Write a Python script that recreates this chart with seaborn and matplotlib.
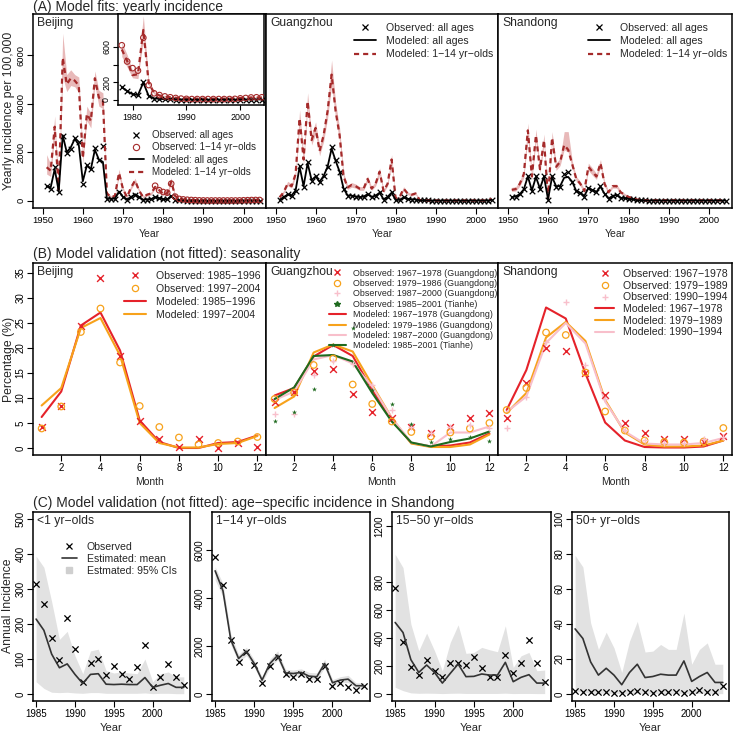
import numpy as np
import matplotlib
matplotlib.use("Agg")
import matplotlib.pyplot as plt
import seaborn as sns
from matplotlib.lines import Line2D

# ---------------- panel A: yearly incidence per 100,000 (1951-2004) ----------------
years_a = np.arange(1951, 2005)

bj_obs_all = [620, 480, 1380, 345, 2650, 1950, 2130, 2590, 2410, 690,
              1490, 1310, 2180, 1680, 2270, 70, 70, 70, 345, 140,
              40, 140, 250, 140, 30, 50, 60, 150, 105, 65,
              55, 200, 40, 15, 10, 8, 6, 5, 4, 4,
              3, 3, 3, 3, 3, 3, 3, 3, 3, 4,
              4, 5, 5, 5]
bj_mod_all = [600, 550, 1300, 400, 2700, 2000, 2200, 2550, 2300, 800,
              1450, 1300, 2100, 1700, 1600, 90, 80, 90, 380, 160,
              60, 150, 270, 150, 40, 60, 70, 145, 100, 65,
              55, 195, 45, 18, 12, 9, 7, 6, 5, 5,
              4, 4, 4, 4, 4, 4, 4, 4, 4, 5,
              5, 6, 6, 6]
bj_mod_kid = [1380, 1240, 3050, 450, 5900, 4800, 5050, 4950, 4750, 1750,
              3580, 3300, 5050, 4250, 4150, 300, 150, 200, 1150, 480,
              150, 550, 830, 420, 150, 250, 300, 570, 440, 280,
              290, 790, 190, 80, 50, 40, 30, 25, 20, 18,
              15, 15, 15, 15, 15, 15, 15, 15, 18, 22,
              25, 28, 28, 28]
bj_kid_lo = [1100, 1000, 2700, 350, 5100, 4500, 4750, 4700, 4450, 1550,
             3300, 3000, 4750, 3900, 3800, 230, 110, 150, 1000, 400,
             110, 470, 730, 360, 110, 200, 240, 490, 370, 250,
             240, 680, 160, 65, 40, 32, 24, 20, 16, 14,
             12, 12, 12, 12, 12, 12, 12, 12, 14, 17,
             20, 22, 22, 22]
bj_kid_hi = [1900, 1500, 3500, 600, 6900, 5200, 5400, 5200, 5100, 2000,
             3900, 3600, 5350, 4550, 4450, 380, 200, 260, 1300, 560,
             200, 640, 930, 490, 200, 300, 360, 650, 510, 330,
             340, 950, 230, 95, 62, 50, 38, 32, 26, 23,
             19, 19, 19, 19, 19, 19, 19, 19, 23, 28,
             31, 35, 35, 35]
years_kid = np.arange(1978, 2005)
bj_obs_kid = [617, 434, 359, 331, 702, 168, 75, 55, 40, 30,
              22, 15, 12, 10, 10, 10, 10, 10, 10, 10,
              10, 12, 18, 22, 28, 30, 30]

gz_obs_all = [30, 140, 280, 200, 400, 1450, 550, 1600, 830, 1040,
              760, 1040, 1380, 2210, 1660, 1180, 480, 200, 200, 170,
              140, 170, 280, 140, 200, 350, 30, 140, 350, 10,
              30, 140, 70, 50, 50, 15, 10, 10, 8, 8,
              6, 6, 5, 5, 5, 5, 5, 5, 5, 5,
              5, 5, 5, 50]
gz_mod_all = [40, 150, 250, 220, 420, 1400, 600, 1550, 850, 1000,
              780, 1020, 1400, 2150, 1650, 1200, 500, 220, 210, 180,
              150, 170, 270, 160, 210, 330, 60, 160, 330, 30,
              40, 130, 80, 60, 55, 20, 12, 10, 9, 8,
              7, 7, 6, 6, 6, 6, 6, 6, 6, 6,
              6, 6, 6, 40]
gz_mod_kid = [140, 350, 700, 600, 1100, 3400, 1700, 4100, 2500, 3000,
              2050, 2700, 3700, 5200, 3700, 2700, 1000, 550, 650, 600,
              500, 500, 900, 500, 700, 1200, 400, 700, 1700, 100,
              150, 500, 300, 250, 300, 30, 15, 12, 10, 10,
              8, 8, 8, 8, 8, 8, 8, 8, 8, 8,
              8, 8, 8, 80]
gz_kid_lo = [110, 300, 620, 520, 980, 3100, 1500, 3800, 2300, 2750,
             1850, 2450, 3400, 4750, 3400, 2450, 880, 470, 560, 520,
             430, 430, 790, 430, 610, 1060, 330, 610, 1500, 70,
             110, 420, 250, 200, 250, 20, 10, 8, 7, 7,
             5, 5, 5, 5, 5, 5, 5, 5, 5, 5,
             5, 5, 5, 60]
gz_kid_hi = [180, 420, 800, 700, 1250, 3750, 1900, 4450, 2750, 3250,
             2250, 2950, 4050, 5800, 4050, 3000, 1150, 640, 750, 690,
             580, 580, 1020, 580, 800, 1350, 470, 800, 1900, 140,
             200, 580, 360, 300, 360, 45, 22, 17, 14, 14,
             12, 12, 12, 12, 12, 12, 12, 12, 12, 12,
             12, 12, 12, 110]

sd_obs_all = [140, 170, 280, 480, 1040, 390, 1000, 480, 1040, 30,
              1010, 580, 580, 1110, 1180, 790, 390, 320, 170, 530,
              440, 350, 600, 280, 70, 200, 250, 110, 110, 70,
              70, 20, 15, 10, 8, 8, 8, 8, 8, 8,
              8, 8, 8, 8, 8, 8, 8, 8, 8, 8,
              8, 8, 8, 8]
sd_mod_all = [150, 180, 270, 470, 1000, 420, 980, 500, 1000, 60,
              980, 600, 600, 950, 980, 780, 400, 330, 200, 520,
              440, 370, 580, 290, 90, 200, 240, 120, 110, 75,
              60, 25, 18, 12, 10, 10, 10, 10, 10, 10,
              10, 10, 10, 10, 10, 10, 10, 10, 10, 10,
              10, 10, 10, 10]
sd_mod_kid = [450, 480, 700, 1100, 2900, 1000, 2700, 1300, 2500, 100,
              2600, 1400, 1600, 2300, 2100, 1500, 900, 700, 400, 1400,
              1200, 1000, 1550, 700, 350, 600, 600, 350, 250, 150,
              120, 50, 30, 20, 15, 15, 15, 15, 15, 15,
              15, 15, 15, 15, 15, 15, 15, 15, 15, 15,
              15, 15, 15, 15]
sd_kid_lo = [380, 400, 600, 950, 2600, 850, 2450, 1150, 2250, 60,
             2350, 1250, 1450, 2100, 2000, 1350, 800, 600, 330, 1250,
             1050, 880, 1400, 600, 290, 520, 520, 290, 200, 110,
             90, 35, 20, 14, 10, 10, 10, 10, 10, 10,
             10, 10, 10, 10, 10, 10, 10, 10, 10, 10,
             10, 10, 10, 10]
sd_kid_hi = [550, 580, 820, 1280, 3200, 1150, 2950, 1450, 2750, 160,
             2850, 1550, 1750, 2850, 2850, 1650, 1000, 800, 470, 1550,
             1350, 1120, 1700, 800, 420, 680, 680, 420, 300, 190,
             150, 65, 40, 26, 20, 20, 20, 20, 20, 20,
             20, 20, 20, 20, 20, 20, 20, 20, 20, 20,
             20, 20, 20, 20]

# ---------------- panel B: seasonality (% of cases by month) ----------------
months = np.arange(1, 13)

bj_obs_8596 = [4.3, 8.5, 24.4, 34.0, 18.4, 5.4, 1.8, 0.3, 1.8, 0.0, 1.1, 0.3]
bj_obs_9704 = [3.9, 8.3, 23.2, 27.9, 17.1, 8.4, 4.2, 2.1, 0.7, 1.0, 1.3, 2.2]
bj_mod_8596 = [6.2, 11.3, 24.5, 27.1, 19.5, 5.5, 1.2, 0.0, 0.0, 1.0, 1.2, 2.5]
bj_mod_9704 = [8.5, 12.0, 24.0, 26.0, 18.5, 5.0, 1.0, 0.1, 0.1, 0.8, 1.0, 2.4]

gz_obs_6778 = [9.3, 11.3, 15.5, 15.8, 10.8, 7.3, 6.1, 4.3, 3.1, 4.3, 6.0, 7.0]
gz_obs_7986 = [9.8, 11.1, 16.6, 17.9, 12.7, 8.8, 5.3, 3.2, 2.3, 3.1, 3.9, 5.0]
gz_obs_8700 = [6.8, 6.8, 14.6, 17.5, 16.9, 12.6, 7.6, 4.3, 3.0, 4.3, 4.6, 4.0]
gz_obs_th = [5.5, 7.2, 11.8, 20.7, 24.0, 11.6, 8.8, 4.8, 1.3, 1.9, 2.2, 1.5]
gz_mod_6778 = [10.5, 12.0, 18.3, 20.6, 18.4, 11.6, 5.6, 1.0, 0.3, 0.5, 1.1, 2.9]
gz_mod_7986 = [8.0, 10.3, 19.1, 20.7, 19.3, 12.6, 6.0, 0.9, 0.2, 0.2, 0.7, 2.7]
gz_mod_8700 = [9.6, 11.3, 17.7, 18.6, 16.9, 12.3, 6.0, 1.1, 0.3, 3.1, 3.1, 4.3]
gz_mod_th = [9.8, 12.1, 18.4, 18.6, 17.3, 11.0, 5.3, 1.1, 0.3, 1.2, 1.9, 3.3]

sd_obs_6778 = [6.0, 13.1, 20.1, 19.4, 15.1, 10.6, 5.1, 3.1, 1.9, 1.8, 1.2, 2.5]
sd_obs_7989 = [7.6, 12.0, 23.1, 22.6, 15.1, 7.3, 3.5, 1.5, 1.2, 1.1, 1.3, 4.0]
sd_obs_9094 = [4.1, 10.2, 21.2, 29.2, 16.6, 9.8, 3.7, 1.7, 1.1, 1.1, 1.8, 2.3]
sd_mod_6778 = [7.6, 15.6, 28.1, 25.9, 14.9, 5.1, 1.5, 0.2, 0.1, 0.1, 0.3, 1.5]
sd_mod_7989 = [7.0, 11.0, 22.1, 25.2, 21.4, 9.6, 3.1, 0.7, 0.3, 0.3, 0.5, 1.5]
sd_mod_9094 = [7.2, 10.3, 21.0, 25.0, 20.9, 9.3, 3.3, 0.9, 0.7, 0.7, 1.0, 2.0]

# ---------------- panel C: age-specific incidence in Shandong ----------------
years_c = np.arange(1985, 2005)

c1_obs = [313, 257, 161, 98, 217, 128, 35, 89, 100, 53, 81, 58, 44, 78, 139, 21, 50, 86, 50, 25]
c1_mean = [214, 182, 114, 75, 86, 56, 30, 56, 58, 28, 27, 28, 27, 27, 47, 19, 25, 30, 19, 19]
c1_lo = [35, 16, 5, 4, 5, 3, 2, 4, 4, 2, 2, 2, 2, 2, 3, 1, 2, 2, 1, 1]
c1_hi = [394, 362, 264, 156, 179, 109, 58, 123, 128, 67, 60, 63, 60, 58, 100, 35, 58, 63, 49, 49]

c2_obs = [5720, 4540, 2230, 1340, 1750, 1200, 470, 1160, 1545, 830, 720, 830, 610, 610, 1170, 345, 440, 300, 165, 345]
c2_mean = [5130, 4300, 2260, 1480, 1780, 1270, 580, 1270, 1610, 880, 855, 900, 745, 720, 1270, 470, 580, 620, 345, 345]
c2_lo = [4750, 4050, 2050, 1320, 1600, 1120, 460, 1100, 1430, 740, 720, 760, 610, 590, 1100, 360, 460, 480, 230, 230]
c2_hi = [5300, 4600, 2500, 1650, 1950, 1420, 700, 1450, 1800, 1030, 1000, 1050, 900, 880, 1450, 600, 720, 780, 470, 470]

c3_obs = [755, 375, 190, 138, 242, 166, 124, 221, 221, 207, 266, 183, 124, 124, 278, 147, 219, 385, 219, 88]
c3_mean = [511, 439, 245, 154, 207, 154, 78, 147, 214, 124, 126, 143, 135, 135, 226, 88, 119, 138, 78, 78]
c3_lo = [48, 24, 8, 5, 6, 5, 3, 5, 6, 4, 4, 4, 4, 4, 6, 3, 4, 4, 3, 3]
c3_hi = [998, 903, 499, 309, 435, 309, 166, 368, 494, 290, 297, 333, 316, 302, 487, 190, 273, 297, 166, 171]

c4_obs = [1.9, 0.9, 1.3, 1.3, 1.3, 0.4, 0.4, 1.3, 1.9, 1.3, 0.4, 1.3, 1.3, 1.3, 0.4, 1.3, 2.5, 0.9, 0.9, 4.7]
c4_mean = [37.2, 31.7, 18.3, 10.8, 14.7, 10.8, 5.3, 12.3, 17.0, 9.4, 10.0, 11.3, 10.8, 10.8, 18.9, 7.2, 10.0, 12.3, 6.6, 6.6]
c4_lo = [1.5, 1.0, 0.5, 0.4, 0.4, 0.3, 0.2, 0.3, 0.4, 0.3, 0.3, 0.3, 0.3, 0.3, 0.4, 0.2, 0.3, 0.3, 0.2, 0.2]
c4_hi = [79.2, 72.6, 40.6, 25.5, 35.3, 26.4, 12.3, 30.2, 41.5, 24.0, 24.5, 28.3, 25.5, 25.5, 46.2, 17.0, 25.5, 29.2, 17.0, 17.0]

# ---------------- style ----------------
sns.set_theme(style="ticks")
plt.rcParams["font.family"] = ["Liberation Sans", "DejaVu Sans"]
plt.rcParams.update({
    "axes.linewidth": 1.1,
    "axes.edgecolor": "black",
    "xtick.direction": "out",
    "ytick.direction": "out",
    "xtick.major.size": 4.0,
    "ytick.major.size": 4.0,
    "xtick.major.width": 0.8,
    "ytick.major.width": 0.8,
    "xtick.major.pad": 2.0,
    "ytick.major.pad": 1.5,
    "xtick.color": "black",
    "ytick.color": "black",
})

BROWN = "#a52a2a"
PINKBAND = "#e8b9b9"
RED = "#e5222a"
ORANGE = "#f7a21b"
PINK = "#f8bfcb"
GREEN = "#1e6a1e"
GREYBAND = "#e2e2e2"

W = H = 734
fig = plt.figure(figsize=(7.34, 7.34), dpi=100)


def px_axes(x0, x1, y0, y1):
    return fig.add_axes([x0 / W, 1 - y1 / H, (x1 - x0) / W, (y1 - y0) / H])


def rotate_y(ax):
    plt.setp(ax.get_yticklabels(), rotation=90, va="center", ha="right")


def add_legend(ax, handles, labels, x, y, fs, hl, htp, ls):
    ax.legend(handles, labels, loc="upper left",
              bbox_to_anchor=(x / W, 1 - y / H), bbox_transform=fig.transFigure,
              frameon=False, fontsize=fs, handlelength=hl, handletextpad=htp,
              labelspacing=ls, borderpad=0, borderaxespad=0)


def corner_label(ax, text, fs=8.7):
    ax.annotate(text, xy=(0, 1), xycoords="axes fraction", xytext=(3, -2),
                textcoords="offset points", ha="left", va="top", fontsize=fs)


x_mark = dict(marker="x", ls="", color="black", ms=4.5, mew=0.9)
dash = (0, (2.3, 1.8))

# ---------------- panel A ----------------
fig.text(33 / W, 1 - 7 / H, "(A) Model fits: yearly incidence", fontsize=10, va="center")
regions_a = [
    ("Beijing", 33, 266, bj_obs_all, bj_mod_all, bj_mod_kid, bj_kid_lo, bj_kid_hi),
    ("Guangzhou", 266, 498, gz_obs_all, gz_mod_all, gz_mod_kid, gz_kid_lo, gz_kid_hi),
    ("Shandong", 498, 732, sd_obs_all, sd_mod_all, sd_mod_kid, sd_kid_lo, sd_kid_hi),
]
for i, (name, x0, x1, obs, mod, kid, lo, hi) in enumerate(regions_a):
    ax = px_axes(x0, x1, 14, 208)
    ax.fill_between(years_a, lo, hi, color=PINKBAND, lw=0)
    sns.lineplot(x=years_a, y=kid, ax=ax, color=BROWN, lw=1.6, linestyle=dash)
    sns.lineplot(x=years_a, y=mod, ax=ax, color="black", lw=1.3)
    sns.scatterplot(x=years_a, y=obs, ax=ax, marker="x", color="black", s=16, linewidth=0.9)
    if name == "Beijing":
        ax.scatter(years_kid, bj_obs_kid, marker="o", s=16, facecolors="none",
                   edgecolors=BROWN, linewidths=0.8, zorder=4)
    ax.set_xlim(1947.6, 2005.6)
    ax.set_ylim(-300, 7700)
    ax.set_xticks([1950, 1960, 1970, 1980, 1990, 2000])
    ax.tick_params(axis="x", labelsize=6.8)
    if i == 0:
        ax.set_yticks([0, 2000, 4000, 6000])
        ax.tick_params(axis="y", labelsize=6.8)
        rotate_y(ax)
    else:
        ax.set_yticks([])
    ax.set_xlabel("Year", fontsize=7.5)
    ax.xaxis.set_label_coords(0.5, (208 - 234) / 194)
    ax.xaxis.label.set_va("center")
    ax.set_ylabel("")
    corner_label(ax, name)

    if name == "Beijing":
        h = [Line2D([], [], **x_mark),
             Line2D([], [], marker="o", ls="", mfc="none", mec=BROWN, ms=4.5, mew=0.8),
             Line2D([], [], color="black", lw=1.3),
             Line2D([], [], color=BROWN, lw=1.6, linestyle=dash)]
        lab = ["Observed: all ages", "Observed: 1\u221214 yr\u2212olds",
               "Modeled: all ages", "Modeled: 1\u221214 yr\u2212olds"]
        add_legend(ax, h, lab, 129, 130, 7.0, 1.5, 0.85, 0.24)

        # inset: 1978-2004 close-up
        axi = px_axes(118, 264, 14, 105)
        sel = years_a >= 1978
        yrs = years_a[sel]
        axi.fill_between(yrs, np.array(lo)[sel], np.array(hi)[sel], color=PINKBAND, lw=0)
        sns.lineplot(x=yrs, y=np.array(kid)[sel], ax=axi, color=BROWN, lw=1.6, linestyle=dash)
        sns.lineplot(x=yrs, y=np.array(mod)[sel], ax=axi, color="black", lw=1.3)
        sns.scatterplot(x=yrs, y=np.array(obs)[sel], ax=axi, marker="x", color="black",
                        s=16, linewidth=0.9)
        axi.scatter(years_kid, bj_obs_kid, marker="o", s=16, facecolors="none",
                    edgecolors=BROWN, linewidths=0.8, zorder=4)
        axi.set_xlim(1977.3, 2004.4)
        axi.set_ylim(-57, 970)
        axi.set_xticks([1980, 1990, 2000])
        axi.set_yticks([0, 200, 400, 600])
        axi.set_yticklabels(["0", "200", "", "600"])
        axi.tick_params(labelsize=6.4, length=3.5)
        rotate_y(axi)
        axi.set_xlabel("")
        axi.set_ylabel("")
        axi.set_facecolor("white")
    else:
        h = [Line2D([], [], **x_mark),
             Line2D([], [], color="black", lw=1.3),
             Line2D([], [], color=BROWN, lw=1.6, linestyle=dash)]
        lab = ["Observed: all ages", "Modeled: all ages", "Modeled: 1\u221214 yr\u2212olds"]
        lx = 354 if name == "Guangzhou" else 588
        add_legend(ax, h, lab, lx, 23, 7.6, 2.1, 0.9, 0.3)

fig.text(9 / W, 1 - 111 / H, "Yearly incidence per 100,000", rotation=90,
         fontsize=8.8, va="center", ha="center")

# ---------------- panel B ----------------
fig.text(33 / W, 1 - 254 / H, "(B) Model validation (not fitted): seasonality",
         fontsize=10, va="center")

regions_b = [
    ("Beijing", 33, 266,
     [(bj_obs_8596, "x", RED), (bj_obs_9704, "o", ORANGE)],
     [(bj_mod_8596, RED), (bj_mod_9704, ORANGE)],
     ["1985\u22121996", "1997\u22122004"]),
    ("Guangzhou", 266, 498,
     [(gz_obs_6778, "x", RED), (gz_obs_7986, "o", ORANGE),
      (gz_obs_8700, "+", PINK), (gz_obs_th, "*", GREEN)],
     [(gz_mod_6778, RED), (gz_mod_7986, ORANGE), (gz_mod_8700, PINK), (gz_mod_th, GREEN)],
     ["1967\u22121978 (Guangdong)", "1979\u22121986 (Guangdong)",
      "1987\u22122000 (Guangdong)", "1985\u22122001 (Tianhe)"]),
    ("Shandong", 498, 732,
     [(sd_obs_6778, "x", RED), (sd_obs_7989, "o", ORANGE), (sd_obs_9094, "+", PINK)],
     [(sd_mod_6778, RED), (sd_mod_7989, ORANGE), (sd_mod_9094, PINK)],
     ["1967\u22121978", "1979\u22121989", "1990\u22121994"]),
]


def obs_handle(m, c):
    if m == "o":
        return Line2D([], [], marker="o", ls="", mfc="none", mec=c, ms=4.5, mew=0.9)
    if m == "*":
        return Line2D([], [], marker="*", ls="", color=c, ms=4)
    return Line2D([], [], marker=m, ls="", color=c, ms=5, mew=1.0)


for i, (name, x0, x1, obs_list, mod_list, periods) in enumerate(regions_b):
    ax = px_axes(x0, x1, 263, 455)
    for vals, c in mod_list:
        sns.lineplot(x=months, y=vals, ax=ax, color=c, lw=1.5)
    for vals, m, c in obs_list:
        if m == "o":
            ax.scatter(months, vals, marker="o", s=22, facecolors="none",
                       edgecolors=c, linewidths=0.9, zorder=4)
        elif m == "*":
            sns.scatterplot(x=months, y=vals, ax=ax, marker="*", color=c, s=14,
                            linewidth=0, zorder=4)
        else:
            sns.scatterplot(x=months, y=vals, ax=ax, marker=m, color=c, s=24,
                            linewidth=1.0, zorder=4)
    ax.set_xlim(0.56, 12.44)
    ax.set_ylim(-1.4, 37)
    ax.set_xticks([2, 4, 6, 8, 10, 12])
    ax.tick_params(axis="x", labelsize=7)
    if i == 0:
        ax.set_yticks([0, 5, 10, 15, 20, 25, 30, 35])
        ax.tick_params(axis="y", labelsize=7)
        rotate_y(ax)
    else:
        ax.set_yticks([])
    ax.set_xlabel("Month", fontsize=7.5)
    ax.xaxis.set_label_coords(0.5, (455 - 482) / 192)
    ax.xaxis.label.set_va("center")
    ax.set_ylabel("")
    corner_label(ax, name)

    h = [obs_handle(m, c) for _, m, c in obs_list] + \
        [Line2D([], [], color=c, lw=1.5) for _, c in mod_list]
    lab = ["Observed: " + p for p in periods] + ["Modeled: " + p for p in periods]
    if name == "Beijing":
        add_legend(ax, h, lab, 124, 271, 7.6, 2.1, 0.95, 0.27)
    elif name == "Guangzhou":
        add_legend(ax, h, lab, 329, 268.5, 6.4, 1.9, 0.8, 0.16)
    else:
        add_legend(ax, h, lab, 595, 269, 7.6, 1.8, 0.85, 0.16)

fig.text(9 / W, 1 - 359 / H, "Percentage (%)", rotation=90, fontsize=8.8,
         va="center", ha="center")

# ---------------- panel C ----------------
fig.text(33 / W, 1 - 503 / H,
         "(C) Model validation (not fitted): age\u2212specific incidence in Shandong",
         fontsize=10, va="center")

regions_c = [
    ("<1 yr\u2212olds", 33, 190, c1_obs, c1_mean, c1_lo, c1_hi, (-20, 520), [0, 100, 200, 300, 400, 500]),
    ("1\u221214 yr\u2212olds", 212, 370, c2_obs, c2_mean, c2_lo, c2_hi, (-290, 7580), [0, 2000, 4000, 6000]),
    ("15\u221250 yr\u2212olds", 392, 551, c3_obs, c3_mean, c3_lo, c3_hi, (-50, 1300), [0, 200, 400, 600, 800, 1200]),
    ("50+ yr\u2212olds", 572, 729, c4_obs, c4_mean, c4_lo, c4_hi, (-4, 104), [0, 20, 40, 60, 80, 100]),
]
for i, (name, x0, x1, obs, mean, lo, hi, ylim, yt) in enumerate(regions_c):
    ax = px_axes(x0, x1, 512, 701)
    ax.fill_between(years_c, lo, hi, color=GREYBAND, lw=0)
    sns.lineplot(x=years_c, y=mean, ax=ax, color="#333333", lw=1.2)
    sns.scatterplot(x=years_c, y=obs, ax=ax, marker="x", color="black", s=20, linewidth=0.9)
    ax.set_xlim(1984.6, 2004.8)
    ax.set_ylim(*ylim)
    ax.set_xticks([1985, 1990, 1995, 2000])
    ax.set_yticks(yt)
    ax.tick_params(labelsize=7)
    rotate_y(ax)
    ax.set_xlabel("Year", fontsize=8)
    ax.xaxis.set_label_coords(0.5, (701 - 728) / 189)
    ax.xaxis.label.set_va("center")
    ax.set_ylabel("")
    corner_label(ax, name)
    if i == 0:
        h = [Line2D([], [], **x_mark),
             Line2D([], [], color="#333333", lw=1.2),
             Line2D([], [], marker="s", ls="", color="#cfcfcf", ms=4.5)]
        lab = ["Observed", "Estimated: mean", "Estmated: 95% CIs"]
        add_legend(ax, h, lab, 62, 542, 7.6, 1.4, 0.95, 0.18)

fig.text(8 / W, 1 - 606 / H, "Annual Incidence", rotation=90, fontsize=8.8,
         va="center", ha="center")

fig.savefig("out.png", dpi=100)
